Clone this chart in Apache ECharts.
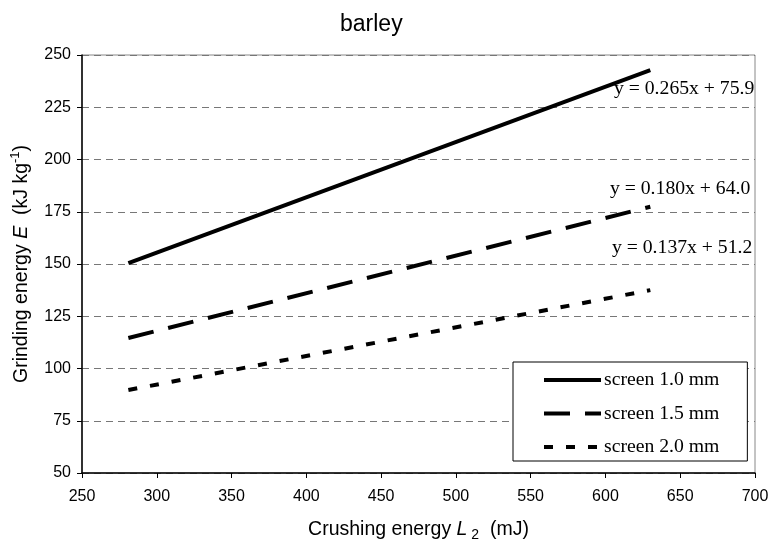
<!DOCTYPE html>
<html>
<head>
<meta charset="utf-8">
<script src="https://cdn.jsdelivr.net/npm/echarts@6/dist/echarts.min.js"></script>
<style>html,body{margin:0;padding:0;background:#fff}#c{width:773px;height:540px}</style>
</head>
<body>
<div id="c"></div>
<script>
const seriesNames = ['screen 1.0 mm', 'screen 1.5 mm', 'screen 2.0 mm'];
const xEnds = [281, 630];
const ySolid = [150.4, 242.8];
const yDashed = [114.6, 177.4];
const yDotted = [89.7, 137.5];
const equations = ['y = 0.265x + 75.9', 'y = 0.180x + 64.0', 'y = 0.137x + 51.2'];
const xTicks = [250, 300, 350, 400, 450, 500, 550, 600, 650, 700];
const yTicks = [50, 75, 100, 125, 150, 175, 200, 225, 250];

const chart = echarts.init(document.getElementById('c'));
const lineTypes = ['solid', [26, 15], [9, 13]];
const ys = [ySolid, yDashed, yDotted];
const eqOffsets = [[104, 19], [100, -18], [102, -42]];

const series = ys.map((arr, i) => ({
  name: seriesNames[i],
  type: 'line',
  data: xEnds.map((x, j) => [x, arr[j]]),
  symbol: 'none',
  lineStyle: { color: '#000', width: 4, type: lineTypes[i], cap: 'butt' },
  itemStyle: { color: '#000' },
  animation: false,
  z: 3,
  markPoint: {
    symbol: 'circle',
    symbolSize: 1,
    itemStyle: { color: 'rgba(0,0,0,0)' },
    animation: false,
    data: [{
      coord: [xEnds[1], arr[1]],
      label: {
        show: true,
        formatter: equations[i],
        position: 'inside',
        align: 'right',
        verticalAlign: 'middle',
        offset: eqOffsets[i],
        fontFamily: 'Liberation Serif',
        fontSize: 19.7,
        color: '#000'
      }
    }]
  }
}));

chart.setOption({
  backgroundColor: '#fff',
  animation: false,
  title: {
    text: 'barley',
    left: 335,
    top: 8,
    textStyle: { fontFamily: 'Liberation Sans', fontSize: 23, fontWeight: 'normal', color: '#000' }
  },
  grid: {
    left: 82, right: 18, top: 55, bottom: 67,
    containLabel: false,
    outerBoundsMode: 'none',
    show: true, borderColor: '#888', borderWidth: 1, backgroundColor: '#fff'
  },
  legend: {
    orient: 'vertical',
    left: 513,
    top: 362,
    backgroundColor: '#fff',
    borderColor: '#000',
    borderWidth: 1,
    borderRadius: 0,
    padding: [8, 28, 4, 29],
    itemWidth: 57,
    itemHeight: 20,
    itemGap: 13.5,
    itemStyle: { opacity: 0, color: 'rgba(0,0,0,0)', borderWidth: 0 },
    lineStyle: { width: 4, color: '#000', type: 'inherit' },
    textStyle: { fontFamily: 'Liberation Serif', fontSize: 19.7, color: '#000', padding: [0, 0, 0, -2] },
    data: seriesNames
  },
  xAxis: {
    type: 'value',
    min: xTicks[0], max: xTicks[xTicks.length - 1], interval: 50,
    name: 'Crushing energy {i|L}{sub| 2}  (mJ)',
    nameLocation: 'middle',
    nameGap: 45,
    nameTextStyle: {
      fontFamily: 'Liberation Sans', fontSize: 19.5, color: '#000', lineHeight: 24,
      rich: {
        i: { fontFamily: 'Liberation Sans', fontStyle: 'italic', fontSize: 19.5, color: '#000', lineHeight: 24 },
        sub: { fontFamily: 'Liberation Sans', fontSize: 14, color: '#000', lineHeight: 24, verticalAlign: 'bottom', padding: [6, 0, 0, 0] }
      }
    },
    axisLine: { show: true, onZero: false, lineStyle: { color: '#000', width: 1.5 } },
    axisTick: { show: true, length: 5, lineStyle: { color: '#000' } },
    axisLabel: { fontFamily: 'Liberation Sans', fontSize: 16, color: '#000', margin: 16 },
    splitLine: { show: false }
  },
  yAxis: {
    type: 'value',
    min: yTicks[0], max: yTicks[yTicks.length - 1], interval: 25,
    name: 'Grinding energy {i|E}  (kJ kg{sup|-1})',
    nameLocation: 'middle',
    nameGap: 40,
    nameTextStyle: {
      fontFamily: 'Liberation Sans', fontSize: 19.5, color: '#000', lineHeight: 24,
      rich: {
        i: { fontFamily: 'Liberation Sans', fontStyle: 'italic', fontSize: 19.5, color: '#000', lineHeight: 24 },
        sup: { fontFamily: 'Liberation Sans', fontSize: 13, color: '#000', lineHeight: 24, verticalAlign: 'top', padding: [0, 0, 8, 0] }
      }
    },
    axisLine: { show: true, onZero: false, lineStyle: { color: '#000', width: 1.5 } },
    axisTick: { show: true, length: 5, lineStyle: { color: '#000' } },
    axisLabel: { fontFamily: 'Liberation Sans', fontSize: 16, color: '#000', margin: 11 },
    splitLine: { show: true, lineStyle: { color: '#777', width: 1, type: [7, 5] } }
  },
  series: series
});
</script>
</body>
</html>
